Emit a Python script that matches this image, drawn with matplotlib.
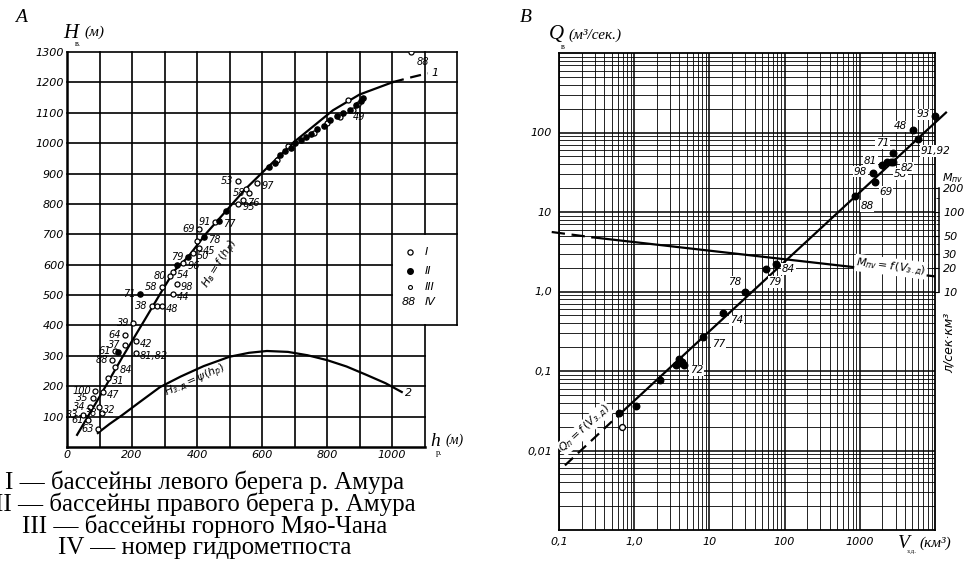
import matplotlib.pyplot as plt
from matplotlib.ticker import NullFormatter

plt.rcParams['font.family'] = ['DejaVu Sans']

# ---- panel A: H_v against h_p ----
curve1_h = [31, 100, 170, 240, 290, 330, 372, 430, 492, 550, 615, 700, 818, 900, 1003, 1060, 1110]
curve1_H = [40, 165, 295, 420, 510, 580, 625, 705, 780, 850, 918, 1005, 1108, 1160, 1201, 1217, 1230]

curve2_h = [95, 130, 170, 220, 286, 350, 420, 500, 560, 615, 680, 740, 800, 860, 920, 980, 1030]
curve2_H = [46, 75, 105, 145, 197, 232, 266, 297, 310, 316, 313, 302, 286, 265, 238, 210, 181]

# group I (open circles)
open_h = [1058, 865, 526, 585, 550, 560, 540, 527, 455, 406, 400, 406, 388, 357, 326, 317,
          292, 338, 326, 261, 276, 292, 204, 178, 178, 212, 212, 148, 138, 148, 126, 111,
          86, 80, 71, 98, 107, 49, 65, 95, 645, 680, 760, 800, 840, 880, 895]
open_H = [1299, 1141, 875, 868, 850, 835, 812, 800, 740, 717, 678, 655, 638, 605, 576, 563,
          527, 536, 503, 464, 464, 464, 407, 368, 336, 349, 309, 316, 286, 263, 227, 181,
          184, 161, 132, 132, 111, 105, 89, 58, 945, 990, 1035, 1065, 1085, 1110, 1130]
open_lab = ["88", "49", "53", "97", "", "58", "76", "95", "91", "69", "", "45", "50", "96", "54", "80",
            "58", "98", "44", "38", "", "48", "39", "64", "37", "42", "81,82", "61", "88", "84", "31", "47",
            "100", "35", "34", "32", "38", "33", "61", "63", "", "", "", "", "", "", ""]

# group II (filled dots)
fill_h = [225, 421, 468, 372, 338, 489, 157, 620, 640, 655, 670, 690, 700, 720, 735, 750, 770,
          790, 810, 830, 850, 870, 890, 905, 910]
fill_H = [503, 690, 743, 625, 599, 776, 313, 920, 935, 960, 975, 985, 1000, 1010, 1020, 1030, 1045,
          1055, 1075, 1090, 1100, 1110, 1125, 1140, 1150]
fill_lab = ["71", "78", "77", "79", "", "", "", "", "", "", "", "", "", "", "", "", "",
            "", "", "", "", "", "", "", ""]

# ---- panel B: Q_v against V_zd (log-log) ----
qline_V = [0.12, 0.6, 14000]
qline_Q = [0.0065, 0.027, 178]
mline_V = [0.08, 0.28, 10000]
mline_M = [56, 48, 15.5]

pts_V = [10000, 5100, 5900, 2800, 2000, 2300, 2600, 2800, 1480, 1600, 860, 78, 56, 30, 15, 8.3,
         3.6, 4.0, 4.3, 4.6, 3.9, 2.2, 1.06, 0.63]
pts_Q = [163, 106, 84, 56, 39, 42, 43, 42, 31, 23.7, 15.8, 2.24, 1.9, 1.0, 0.53, 0.27,
         0.12, 0.14, 0.13, 0.12, 0.125, 0.077, 0.036, 0.03]
pts_lab = ["93", "48", "91,92", "71", "81", "", "58", "82", "98", "69", "88", "84", "79", "78", "74", "77",
           "", "", "", "", "72", "", "", ""]
open_V = [0.69]
open_Q = [0.02]

x_ticks_b = [0.1, 1, 10, 100, 1000]
x_labels_b = ["0,1", "1,0", "10", "100", "1000"]
y_ticks_b = [0.01, 0.1, 1, 10, 100]
y_labels_b = ["0,01", "0,1", "1,0", "10", "100"]
m_ticks = [10, 20, 30, 50, 100, 200]
m_minor = [40, 60, 70, 80, 90, 150]

captions = ["I — бассейны левого берега р. Амура",
            "II — бассейны правого берега р. Амура",
            "III — бассейны горного Мяо-Чана",
            "IV — номер гидрометпоста"]

W, H = 969, 571
fig = plt.figure(figsize=(W / 100, H / 100), dpi=100)


def box(x0, y0, x1, y1):
    # pixel box -> figure fraction rect
    return [x0 / W, 1 - y1 / H, (x1 - x0) / W, (y1 - y0) / H]


def ptxt(x, y, s, **kw):
    fig.text(x / W, 1 - y / H, s, **kw)


serif = ['Liberation Serif', 'DejaVu Serif']
tick_font = dict(fontsize=8, style='italic')

# ================= panel A =================
ax1 = fig.add_axes(box(67, 52, 457, 447))
ax1.set_xlim(0, 1200)
ax1.set_ylim(0, 1300)
for s in ax1.spines.values():
    s.set_visible(False)

gkw = dict(color='black', lw=1.2, clip_on=False, zorder=1)
for x in range(0, 1300, 100):
    lw = 1.8 if x == 0 else 1.2
    if x <= 1000:
        ax1.plot([x, x], [0, 1300], **{**gkw, 'lw': lw})
    elif x == 1100:
        ax1.plot([x, x], [0, 400], **gkw)
        ax1.plot([x, x], [700, 1300], **gkw)
    else:
        ax1.plot([x, x], [400, 1300], **gkw)
for y in range(0, 1400, 100):
    lw = 1.8 if y == 0 else 1.2
    if y < 400:
        x1 = 1100
    elif y == 400:
        x1 = 1200
    elif y < 700:
        x1 = 1000
    else:
        x1 = 1200
    ax1.plot([0, x1], [y, y], **{**gkw, 'lw': lw})

ax1.plot(curve1_h[:15], curve1_H[:15], color='black', lw=1.6, zorder=3)
ax1.plot(curve1_h[14:], curve1_H[14:], color='black', lw=1.6, ls=(0, (5, 3)), zorder=3)
ax1.plot(curve2_h, curve2_H, color='black', lw=1.6, zorder=3)

ax1.scatter(open_h, open_H, s=13, facecolors='white', edgecolors='black', linewidths=0.9, zorder=4)
ax1.scatter(fill_h, fill_H, s=14, color='black', zorder=4)

left_side = ("53", "91", "69", "80", "58", "38", "39", "64", "37", "61", "88", "100", "35", "34",
             "33", "63", "71", "79")
for h, v, lab in zip(open_h + fill_h, open_H + fill_H, open_lab + fill_lab):
    if not lab:
        continue
    if h > 1000:
        ax1.annotate(lab, (h, v), xytext=(4, -7), textcoords='offset points', ha='left', va='center',
                     fontsize=7, style='italic', zorder=5)
    elif h > 800:
        # "49" sits under the dense cluster
        ax1.annotate(lab, (h, v), xytext=(8, -12), textcoords='offset points', ha='center', va='center',
                     fontsize=7, style='italic', zorder=5)
    elif lab in left_side:
        ax1.annotate(lab, (h, v), xytext=(-3, 0), textcoords='offset points', ha='right', va='center',
                     fontsize=7, style='italic', zorder=5)
    else:
        ax1.annotate(lab, (h, v), xytext=(3, -2), textcoords='offset points', ha='left', va='center',
                     fontsize=7, style='italic', zorder=5)

ax1.text(1120, 1232, "1", fontsize=8, style='italic', va='center')
ax1.text(1040, 178, "2", fontsize=8, style='italic', va='center')
ax1.text(472, 600, "$H_{в}=f\\,(h_{р})$", rotation=58, fontsize=8, ha='center', va='center', zorder=5)
ax1.text(395, 215, "$H_{з.д}=\\psi(h_{р})$", rotation=24, fontsize=8, ha='center', va='center', zorder=5)

# legend box
ax1.scatter([1055], [641], s=14, facecolors='white', edgecolors='black', linewidths=0.9)
ax1.scatter([1055], [579], s=16, color='black')
ax1.scatter([1055], [526], s=8, facecolors='white', edgecolors='black', linewidths=0.8)
ax1.text(1100, 641, "I", fontsize=8, style='italic', va='center')
ax1.text(1100, 579, "II", fontsize=8, style='italic', va='center')
ax1.text(1100, 526, "III", fontsize=8, style='italic', va='center')
ax1.text(1075, 478, "88", fontsize=8, style='italic', va='center', ha='right')
ax1.text(1100, 478, "IV", fontsize=8, style='italic', va='center')

ax1.set_yticks(range(100, 1400, 100))
ax1.set_yticklabels([str(v) for v in range(100, 1400, 100)], **tick_font)
ax1.set_xticks(range(0, 1200, 200))
ax1.set_xticklabels([str(v) for v in range(0, 1200, 200)], **tick_font)
ax1.tick_params(length=0, pad=2)

ptxt(15, 18, "A", fontsize=14, style='italic', family=serif, va='center')
ptxt(63, 33, "H", fontsize=15, style='italic', family=serif, va='center')
ptxt(75, 44, "в.", fontsize=6, family=serif, va='center')
ptxt(84, 32, "(м)", fontsize=11, style='italic', family=serif, va='center')
ptxt(430, 441, "h", fontsize=14, style='italic', family=serif, va='center')
ptxt(436, 453, "р.", fontsize=6, family=serif, va='center')
ptxt(446, 440, "(м)", fontsize=10, style='italic', family=serif, va='center')

for i, cap in enumerate(captions):
    ptxt(205, 482 + 22 * i, cap, fontsize=18, family=serif, ha='center', va='center')

# ================= panel B =================
ax2 = fig.add_axes(box(559, 53, 935, 530))
ax2.set_xscale('log')
ax2.set_yscale('log')
ax2.set_xlim(0.1, 10000)
ax2.set_ylim(0.001, 1000)
ax2.grid(which='major', color='black', lw=1.1)
ax2.grid(which='minor', color='black', lw=0.6)
ax2.set_axisbelow(True)
for s in ax2.spines.values():
    s.set_linewidth(1.3)
ax2.set_xticks(x_ticks_b)
ax2.set_xticklabels(x_labels_b, **tick_font)
ax2.set_yticks(y_ticks_b)
ax2.set_yticklabels(y_labels_b, **tick_font)
ax2.xaxis.set_minor_formatter(NullFormatter())
ax2.yaxis.set_minor_formatter(NullFormatter())
ax2.tick_params(which='both', length=0, pad=5)

ax2.plot(qline_V[:2], qline_Q[:2], color='black', lw=1.6, ls=(0, (5, 3)), zorder=3)
ax2.plot(qline_V[1:], qline_Q[1:], color='black', lw=1.6, zorder=3, clip_on=False)
ax2.scatter(pts_V, pts_Q, s=22, color='black', zorder=4, clip_on=False)
ax2.scatter(open_V, open_Q, s=18, facecolors='white', edgecolors='black', linewidths=1, zorder=4)

lab_off = {"93": (-4, 1, 'right'), "48": (-4, 3, 'right'), "91,92": (2, -9, 'left'),
           "71": (-3, 7, 'right'), "81": (-4, 3, 'right'), "58": (2, -9, 'left'),
           "82": (5, -4, 'left'), "98": (-4, 1, 'right'), "69": (3, -7, 'left'),
           "88": (4, -7, 'left'), "84": (4, -4, 'left'), "79": (2, -9, 'left'),
           "78": (-3, 7, 'right'), "74": (5, -5, 'left'), "77": (6, -5, 'left'),
           "72": (8, -5, 'left')}
for v, q, lab in zip(pts_V, pts_Q, pts_lab):
    if not lab:
        continue
    dx, dy, ha = lab_off[lab]
    ax2.annotate(lab, (v, q), xytext=(dx, dy), textcoords='offset points', ha=ha, va='center',
                 fontsize=7.5, style='italic', zorder=5,
                 bbox=dict(facecolor='white', edgecolor='none', pad=0.5))

ax2.text(0.22, 0.019, "$Q_{п}=f\\,(V_{з.д})$", rotation=43, fontsize=8, ha='center', va='center',
         zorder=5, bbox=dict(facecolor='white', edgecolor='none', pad=0.5))

# secondary scale M_nv
ax3 = ax2.twinx()
ax3.set_yscale('log')
ax3.set_ylim(0.01, 10000)
for k in ('left', 'top', 'bottom'):
    ax3.spines[k].set_visible(False)
ax3.spines['right'].set_bounds(10, 200)
ax3.spines['right'].set_position(('outward', 3))
ax3.spines['right'].set_linewidth(1.1)
ax3.set_yticks(m_ticks)
ax3.set_yticklabels([str(m) for m in m_ticks], **tick_font)
ax3.set_yticks(m_minor, minor=True)
ax3.yaxis.set_minor_formatter(NullFormatter())
ax3.tick_params(which='major', direction='in', length=4, pad=3)
ax3.tick_params(which='minor', direction='in', length=2)

ax3.plot(mline_V[:2], mline_M[:2], color='black', lw=1.6, ls=(0, (6, 3)), clip_on=False, zorder=3)
ax3.plot(mline_V[1:], mline_M[1:], color='black', lw=1.6, zorder=3)
ax3.text(2600, 20.5, "$M_{пv}=f\\,(V_{з.д})$", rotation=-7, fontsize=8, ha='center', va='center',
         zorder=5, bbox=dict(facecolor='white', edgecolor='none', pad=1))

ptxt(520, 18, "B", fontsize=14, style='italic', family=serif, va='center')
ptxt(549, 35, "Q", fontsize=15, style='italic', family=serif, va='center')
ptxt(561, 47, "в", fontsize=6, family=serif, va='center')
ptxt(568, 35, "(м³/сек.)", fontsize=11, style='italic', family=serif, va='center')
ptxt(898, 543, "V", fontsize=14, style='italic', family=serif, va='center')
ptxt(907, 551, "з.д.", fontsize=5, family=serif, va='center')
ptxt(919, 543, "(км³)", fontsize=11, style='italic', family=serif, va='center')
ptxt(942, 178, "$M_{пv}$", fontsize=8, va='center')
ptxt(949, 343, "л/сек·км³", fontsize=9, style='italic', rotation=90, ha='center', va='center')

fig.savefig("out.png", dpi=100)
